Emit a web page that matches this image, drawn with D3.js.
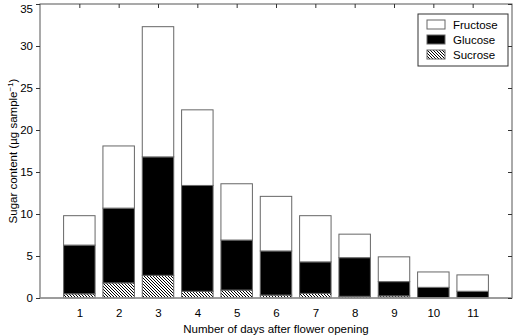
<!DOCTYPE html>
<html>
<head>
<meta charset="utf-8">
<script src="https://cdn.jsdelivr.net/npm/d3@7"></script>
<style>
  body { margin: 0; background: #fff; }
  text { font-family: "Liberation Sans", Arial, sans-serif; }
</style>
</head>
<body>
<script>
const days = [1, 2, 3, 4, 5, 6, 7, 8, 9, 10, 11];
const sucrose = [0.5, 1.8, 2.7, 0.8, 0.95, 0.35, 0.55, 0.2, 0.25, 0, 0];
const glucose = [5.8, 8.9, 14.1, 12.6, 5.95, 5.25, 3.75, 4.6, 1.7, 1.27, 0.8];
const fructose = [3.5, 7.4, 15.5, 9.0, 6.7, 6.5, 5.5, 2.8, 2.95, 1.83, 1.95];
const yTicks = [0, 5, 10, 15, 20, 25, 30, 35];
const seriesNames = ['Sucrose', 'Glucose', 'Fructose'];

const width = 514, height = 336;
const plot = { left: 40, right: 512, top: 4, bottom: 298 };
const fontSize = 11.5;

const svg = d3.select('body').append('svg').attr('width', width).attr('height', height);

// hatch pattern for sucrose
svg.append('defs').append('pattern')
  .attr('id', 'hatch')
  .attr('patternUnits', 'userSpaceOnUse')
  .attr('width', 3).attr('height', 3)
  .call(p => {
    p.append('rect').attr('width', 3).attr('height', 3).attr('fill', '#fff');
    p.append('path').attr('d', 'M-1,-1 L4,4 M-1,2 L1,4 M2,-1 L4,1')
      .attr('stroke', '#000').attr('stroke-width', 1);
  });

const fills = { Sucrose: 'url(#hatch)', Glucose: '#000', Fructose: '#fff' };

const x = d3.scaleLinear().domain([0, 12]).range([plot.left, plot.right]);
const y = d3.scaleLinear().domain([0, 35]).range([plot.bottom, plot.top]);

const table = days.map((d, i) => ({ day: d, Sucrose: sucrose[i], Glucose: glucose[i], Fructose: fructose[i] }));
const stacked = d3.stack().keys(seriesNames)(table);
const barW = x(0.8) - x(0);

// bars
svg.append('g').selectAll('g').data(stacked).join('g')
  .attr('fill', d => fills[d.key])
  .selectAll('rect').data(d => d).join('rect')
  .attr('x', d => x(d.data.day) - barW / 2)
  .attr('y', d => y(d[1]))
  .attr('width', barW)
  .attr('height', d => y(d[0]) - y(d[1]))
  .attr('stroke', '#666')
  .attr('stroke-width', 1);

// frame
svg.append('rect')
  .attr('x', plot.left).attr('y', plot.top)
  .attr('width', plot.right - plot.left).attr('height', plot.bottom - plot.top)
  .attr('fill', 'none').attr('stroke', '#555').attr('stroke-width', 1);
svg.append('line')
  .attr('x1', plot.left).attr('x2', plot.right)
  .attr('y1', plot.bottom).attr('y2', plot.bottom)
  .attr('stroke', '#999').attr('stroke-width', 1.5);

// axes
const axisX = d3.axisBottom(x).tickValues(days).tickSize(0).tickPadding(11);
svg.append('g').attr('transform', `translate(0,${plot.bottom})`).call(axisX)
  .call(g => g.select('.domain').remove())
  .selectAll('text').attr('font-size', fontSize).attr('font-family', '"Liberation Sans", Arial, sans-serif').attr('fill', '#000');

const axisXTop = d3.axisBottom(x).tickValues(days).tickSize(4).tickFormat('');
svg.append('g').attr('transform', `translate(0,${plot.top})`).call(axisXTop)
  .call(g => g.select('.domain').remove())
  .selectAll('line').attr('stroke', '#333');

const axisY = d3.axisLeft(y).tickValues(yTicks).tickSize(4).tickPadding(3);
svg.append('g').attr('transform', `translate(${plot.left},0)`).call(axisY)
  .call(g => g.select('.domain').remove())
  .call(g => g.selectAll('line').attr('stroke', '#333'))
  .selectAll('text').attr('font-size', fontSize).attr('font-family', '"Liberation Sans", Arial, sans-serif').attr('fill', '#000')
  .attr('dy', d => d === 35 ? '0.75em' : '0.32em');

const axisYRight = d3.axisLeft(y).tickValues(yTicks).tickSize(4).tickFormat('');
svg.append('g').attr('transform', `translate(${plot.right},0)`).call(axisYRight)
  .call(g => g.select('.domain').remove())
  .selectAll('line').attr('stroke', '#333');

// axis titles
svg.append('text')
  .attr('x', (plot.left + plot.right) / 2).attr('y', 333)
  .attr('text-anchor', 'middle').attr('font-size', fontSize)
  .text('Number of days after flower opening');

const yTitle = svg.append('text')
  .attr('transform', `translate(17,${(plot.top + plot.bottom) / 2}) rotate(-90)`)
  .attr('text-anchor', 'middle').attr('font-size', fontSize);
yTitle.append('tspan').text('Sugar content (µg sample');
yTitle.append('tspan').attr('font-size', 8).attr('dy', -4).text('−1');
yTitle.append('tspan').attr('dy', 4).text(')');

// legend
const legend = svg.append('g').attr('transform', 'translate(418,14)');
legend.append('rect').attr('width', 90).attr('height', 52)
  .attr('fill', '#fff').attr('stroke', '#333').attr('stroke-width', 1);
const legendItems = ['Fructose', 'Glucose', 'Sucrose'];
const item = legend.selectAll('g.item').data(legendItems).join('g')
  .attr('class', 'item')
  .attr('transform', (d, i) => `translate(9,${6 + i * 15})`);
item.append('rect').attr('width', 18).attr('height', 9)
  .attr('fill', d => fills[d]).attr('stroke', '#666');
item.append('text').attr('x', 26).attr('y', 9).attr('font-size', fontSize).text(d => d);
</script>
</body>
</html>
